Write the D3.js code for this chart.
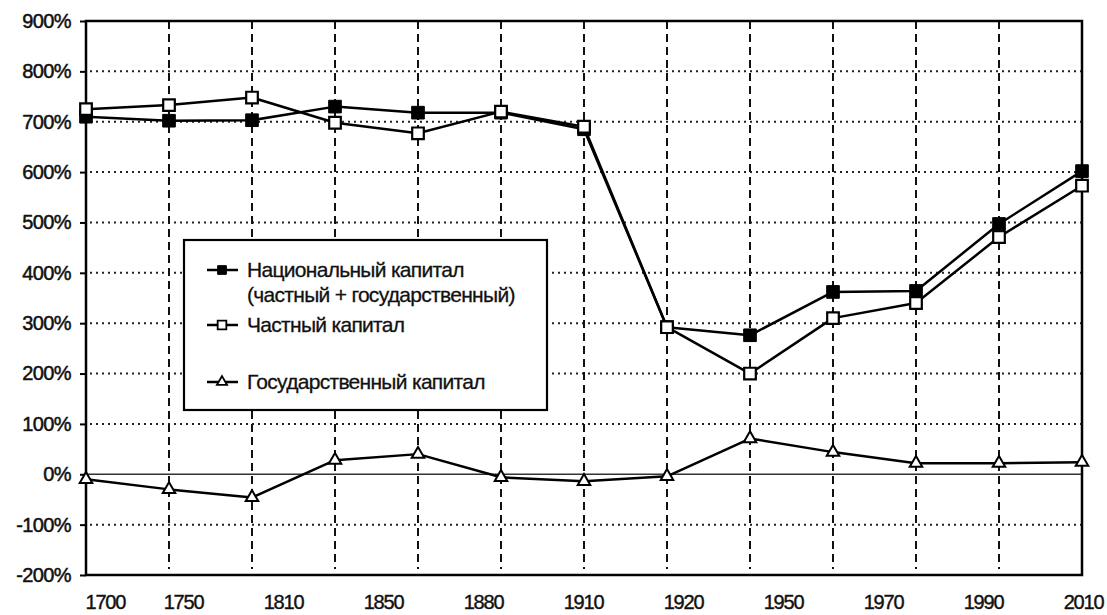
<!DOCTYPE html>
<html><head><meta charset="utf-8">
<script src="https://cdn.jsdelivr.net/npm/d3@7"></script>
<style>body{margin:0;background:#fff}</style>
</head><body><svg id="c" width="1107" height="615"></svg>
<script>
const xLabels = ["1700","1750","1810","1850","1880","1910","1920","1950","1970","1990","2010"];
const national = [710,702,703,730,718,718,685,292,276,362,364,497,602];
const privateCap = [725,733,748,698,677,720,690,292,200,310,340,471,573];
const publicCap = [-10,-30,-46,28,40,-6,-14,-4,71,44,22,22,24];
const yTicks = [-200,-100,0,100,200,300,400,500,600,700,800,900];
const legendLabels = [["Национальный капитал","(частный + государственный)"],["Частный капитал"],["Государственный капитал"]];

const svg = d3.select("#c");
const L = 86, R = 1082, T = 21, B = 575;
const FONT = "'Liberation Sans', Arial, sans-serif";
const idx = d3.range(national.length);
const x = d3.scalePoint().domain(idx).range([L, R]);
const y = d3.scaleLinear().domain([-200, 900]).range([B, T]);
const xl = d3.scalePoint().domain(xLabels).range([83, 1083]);

svg.append("rect").attr("width",1107).attr("height",615).attr("fill","#fff");

// horizontal dotted grid
svg.append("g").selectAll("line").data(yTicks.filter(d => d !== -200 && d !== 0 && d !== 900)).join("line")
  .attr("x1", L + 4).attr("x2", R).attr("y1", d => y(d)).attr("y2", d => y(d))
  .attr("stroke", "#222").attr("stroke-width", 2).attr("stroke-dasharray", "2,4");
// vertical dashed grid
svg.append("g").selectAll("line").data(idx.slice(1, -1)).join("line")
  .attr("x1", d => x(d)).attr("x2", d => x(d)).attr("y1", T).attr("y2", B - 6)
  .attr("stroke", "#111").attr("stroke-width", 2).attr("stroke-dasharray", "8,5");
// zero line
svg.append("line").attr("x1", L).attr("x2", R).attr("y1", y(0)).attr("y2", y(0))
  .attr("stroke", "#333").attr("stroke-width", 1.6);
// frame
svg.append("rect").attr("x", L).attr("y", T).attr("width", R - L).attr("height", B - T)
  .attr("fill", "none").attr("stroke", "#000").attr("stroke-width", 2.5);

// y axis
const ya = svg.append("g").attr("transform", `translate(${L},0)`)
  .call(d3.axisLeft(y).tickValues(yTicks).tickSize(6).tickPadding(9).tickFormat(d => d + "%"));
ya.select(".domain").remove();
ya.selectAll(".tick line").attr("stroke", "#000").attr("stroke-width", 2);
ya.selectAll(".tick text").attr("font-family", FONT).attr("font-size", 20).attr("fill", "#111")
  .attr("letter-spacing", -0.6).attr("stroke", "#111").attr("stroke-width", 0.5);

// x labels
const xa = svg.append("g").attr("transform", `translate(0,${B})`)
  .call(d3.axisBottom(xl).tickSize(0).tickPadding(20));
xa.select(".domain").remove();
xa.selectAll(".tick text").attr("font-family", FONT).attr("font-size", 20).attr("fill", "#111")
  .attr("letter-spacing", -1.2).attr("stroke", "#111").attr("stroke-width", 0.4)
  .attr("text-anchor", (d, i) => i === 0 ? "start" : "middle")
  .attr("dx", (d, i) => i === 0 ? 2 : 0);

// lines
const line = d3.line().x((d, i) => x(i)).y(d => y(d));
[national, privateCap, publicCap].forEach(s => {
  svg.append("path").datum(s).attr("d", line).attr("fill", "none")
    .attr("stroke", "#000").attr("stroke-width", 2.5).attr("stroke-linejoin", "round");
});

function markers(data, sym, fill, sw) {
  svg.append("g").selectAll("path").data(data).join("path")
    .attr("transform", (d, i) => `translate(${x(i)},${y(d)})`)
    .attr("d", sym).attr("fill", fill).attr("stroke", "#000").attr("stroke-width", sw);
}
markers(publicCap, d3.symbol(d3.symbolTriangle, 68), "#fff", 2);
markers(national, d3.symbol(d3.symbolSquare, 160), "#000", 1);
markers(privateCap, d3.symbol(d3.symbolSquare, 135), "#fff", 2.2);

// legend
const lg = svg.append("g");
lg.append("rect").attr("x", 184).attr("y", 240).attr("width", 363).attr("height", 170)
  .attr("fill", "#fff").attr("stroke", "#000").attr("stroke-width", 2.2);
const rows = [
  {y: 270, sym: d3.symbol(d3.symbolSquare, 75), fill: "#000", sw: 1},
  {y: 325, sym: d3.symbol(d3.symbolSquare, 75), fill: "#fff", sw: 1.8},
  {y: 382, sym: d3.symbol(d3.symbolTriangle, 45), fill: "#fff", sw: 1.8}
];
rows.forEach((r, i) => {
  lg.append("line").attr("x1", 207).attr("x2", 238).attr("y1", r.y).attr("y2", r.y)
    .attr("stroke", "#000").attr("stroke-width", 2.5);
  lg.append("path").attr("transform", `translate(222,${r.y})`).attr("d", r.sym)
    .attr("fill", r.fill).attr("stroke", "#000").attr("stroke-width", r.sw);
  legendLabels[i].forEach((t, j) => {
    lg.append("text").attr("x", 247).attr("y", r.y + j * 25).attr("dy", "0.35em")
      .attr("font-family", FONT).attr("font-size", 21).attr("fill", "#111")
      .attr("letter-spacing", -0.7).attr("stroke", "#111").attr("stroke-width", 0.3).text(t);
  });
});
</script></body></html>
